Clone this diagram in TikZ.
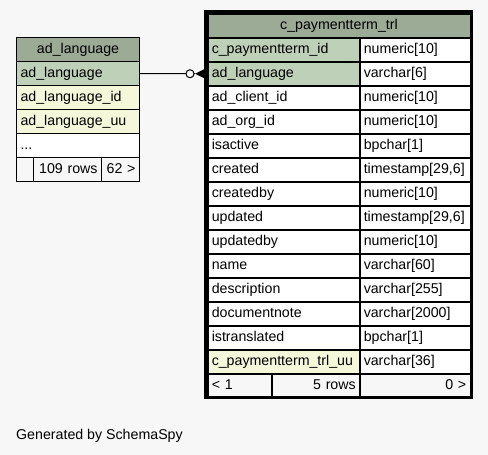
\documentclass[tikz,border=0pt]{standalone}
\usepackage{fontspec}
\setmainfont{Liberation Sans}
\usetikzlibrary{calc}
\definecolor{bgc}{HTML}{F7F7F7}
\definecolor{hdr}{HTML}{9BAB96}
\definecolor{pk}{HTML}{BED1B8}
\definecolor{idx}{HTML}{F4F7DA}
\tikzset{
  cellbase/.style={draw=black, anchor=north west, inner xsep=4pt, inner ysep=0pt,
    minimum height=24pt, font=\fontsize{14.2}{16}\selectfont, text height=10.5pt, text depth=3pt},
  rcell/.style={cellbase, line width=1.5pt},
  lcell/.style={cellbase, line width=1.1pt},
  rname/.style={text width=144pt, align=left},
  rtype/.style={text width=102.5pt, align=left},
  rhead/.style={text width=254.5pt, align=center},
  rf1/.style={text width=56pt, align=left},
  rf2/.style={text width=80pt, align=right},
  rf3/.style={text width=102.5pt, align=right},
  lwide/.style={text width=115pt, align=left},
  lhead/.style={text width=115pt, align=center},
  lf1/.style={text width=9pt, align=left},
  lf2/.style={text width=60pt, align=right},
  lf3/.style={text width=30pt, align=right},
}
\begin{document}
\begin{tikzpicture}[x=1pt,y=-1pt]
\fill[bgc] (0,0) rectangle (488,455);
\useasboundingbox (0,0) rectangle (488,455);
% left table
\node[lcell,lhead,fill=hdr] (lh) at (16,37) {ad\_language};
\node[lcell,lwide,fill=pk] (l1) at (16,61) {ad\_language};
\node[lcell,lwide,fill=idx] (l2) at (16,85) {ad\_language\_id};
\node[lcell,lwide,fill=idx] (l3) at (16,109) {ad\_language\_uu};
\node[lcell,lwide,fill=white] (l4) at (16,133) {...};
\node[lcell,lf1,fill=bgc] (lf1) at (16,157) {};
\node[lcell,lf2,fill=bgc] (lf2) at (33,157) {109 rows};
\node[lcell,lf3,fill=bgc] (lf3) at (101,157) {62 >};
% right table
\node[rcell,rhead,fill=hdr] (rh) at (207,13) {c\_paymentterm\_trl};
\node[rcell,rname,fill=pk] (n1) at (207,37) {c\_paymentterm\_id};
\node[rcell,rtype,fill=white] (t1) at (359,37) {numeric[10]};
\node[rcell,rname,fill=pk] (n2) at (207,61) {ad\_language};
\node[rcell,rtype,fill=white] (t2) at (359,61) {varchar[6]};
\node[rcell,rname,fill=white] (n3) at (207,85) {ad\_client\_id};
\node[rcell,rtype,fill=white] (t3) at (359,85) {numeric[10]};
\node[rcell,rname,fill=white] (n4) at (207,109) {ad\_org\_id};
\node[rcell,rtype,fill=white] (t4) at (359,109) {numeric[10]};
\node[rcell,rname,fill=white] (n5) at (207,133) {isactive};
\node[rcell,rtype,fill=white] (t5) at (359,133) {bpchar[1]};
\node[rcell,rname,fill=white] (n6) at (207,157) {created};
\node[rcell,rtype,fill=white] (t6) at (359,157) {timestamp[29,6]};
\node[rcell,rname,fill=white] (n7) at (207,181) {createdby};
\node[rcell,rtype,fill=white] (t7) at (359,181) {numeric[10]};
\node[rcell,rname,fill=white] (n8) at (207,205) {updated};
\node[rcell,rtype,fill=white] (t8) at (359,205) {timestamp[29,6]};
\node[rcell,rname,fill=white] (n9) at (207,229) {updatedby};
\node[rcell,rtype,fill=white] (t9) at (359,229) {numeric[10]};
\node[rcell,rname,fill=white] (n10) at (207,253) {name};
\node[rcell,rtype,fill=white] (t10) at (359,253) {varchar[60]};
\node[rcell,rname,fill=white] (n11) at (207,277) {description};
\node[rcell,rtype,fill=white] (t11) at (359,277) {varchar[255]};
\node[rcell,rname,fill=white] (n12) at (207,301) {documentnote};
\node[rcell,rtype,fill=white] (t12) at (359,301) {varchar[2000]};
\node[rcell,rname,fill=white] (n13) at (207,325) {istranslated};
\node[rcell,rtype,fill=white] (t13) at (359,325) {bpchar[1]};
\node[rcell,rname,fill=idx] (n14) at (207,349) {c\_paymentterm\_trl\_uu};
\node[rcell,rtype,fill=white] (t14) at (359,349) {varchar[36]};
\node[rcell,rf1,fill=bgc] (rf1) at (207,373) {< 1};
\node[rcell,rf2,fill=bgc] (rf2) at (271,373) {5 rows};
\node[rcell,rf3,fill=bgc] (rf3) at (359,373) {0 >};
\draw[line width=3pt] (205.5,11.5) rectangle (471,397.5);
% connector
\coordinate (cfa) at ($(n2.west)+(-12,0)$);
\draw[line width=1pt] (l1.east) -- (cfa);
\draw[line width=1pt, fill=bgc] ($(n2.west)+(-17,0)$) circle (4);
\fill[black] (cfa) -- ($(n2.west)+(-2,-5)$) -- ($(n2.west)+(-2,5)$) -- cycle;
\node[anchor=west, inner sep=0pt, font=\fontsize{14.2}{16}\selectfont] (gen) at (16,436) {Generated by SchemaSpy};
\end{tikzpicture}
\end{document}
